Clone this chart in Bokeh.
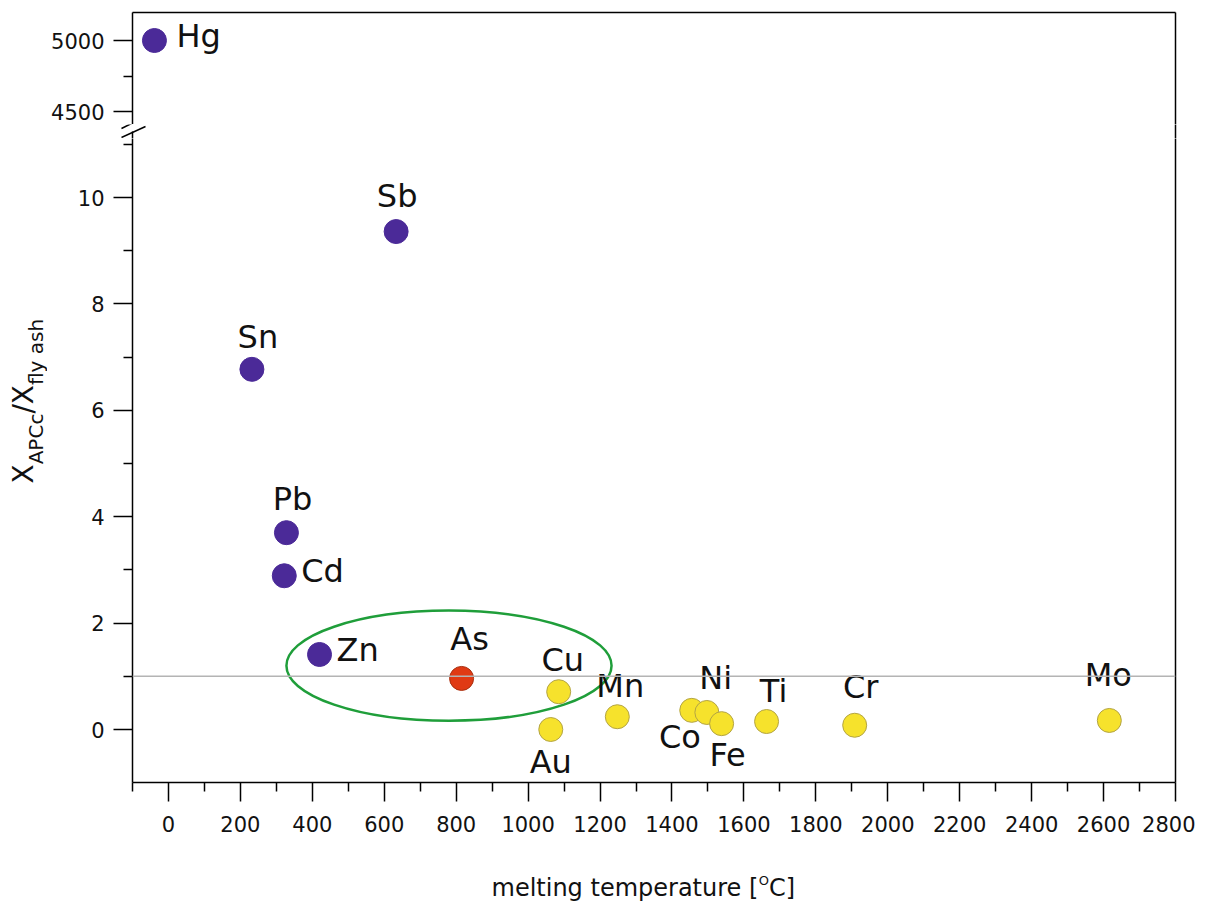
import math
from bokeh.plotting import figure
from bokeh.models import ColumnDataSource, FixedTicker, LinearAxis, Span, Range1d
from bokeh.layouts import column, row
from bokeh.embed import file_html
from bokeh.resources import INLINE
from bokeh.core.properties import value

# ---------------- data ----------------
elements = ["Hg", "Sn", "Pb", "Cd", "Zn", "Sb", "As", "Cu", "Au", "Mn",
            "Ni", "Co", "Fe", "Ti", "Cr", "Mo"]
melting_temp = [-39, 232, 328, 322, 420, 633, 815, 1085, 1063, 1248,
                1455, 1497, 1538, 1663, 1908, 2616]
ratio = [5000, 6.77, 3.70, 2.89, 1.41, 9.36, 0.96, 0.71, 0.00, 0.24,
         0.36, 0.32, 0.11, 0.15, 0.08, 0.17]
group = ["volatile", "volatile", "volatile", "volatile", "volatile", "volatile",
         "semi", "non", "non", "non", "non", "non", "non", "non", "non", "non"]

x_ticks = list(range(0, 2801, 200))
x_minor = list(range(-100, 2800, 200))
y_ticks_low = [0, 2, 4, 6, 8, 10]
y_minor_low = [-1, 1, 3, 5, 7, 9, 11]
y_ticks_high = [4500, 5000]
y_minor_high = [4750]
reference_level = 1.0
ellipse_center = (780, 1.2)
ellipse_size = (904, 2.07)

x_label_parts = ["melting temperature [", "O", "C]"]
y_label_parts = ["X", "APCc", "/X", "fly ash"]

# ---------------- style ----------------
FONT = "DejaVu Sans"
TXT = "#111111"
fill_colors = {"volatile": "#4b2a98", "semi": "#e03a14", "non": "#f6e22c"}
line_colors = {"volatile": "#4b2a98", "semi": "#a83010", "non": "#b3a445"}
# label placement: (align, dx, dy) -> offsets of the text centre in px (down positive)
label_pos = {
    "Hg": ("left", 22, -5), "Sn": ("center", 6, -32), "Pb": ("center", 6, -34),
    "Cd": ("left", 17, -5), "Zn": ("left", 17, -4), "Sb": ("center", 1, -36),
    "As": ("center", 8, -39), "Cu": ("center", 4, -32), "Au": ("center", 0, 32),
    "Mn": ("center", 3, -31), "Ni": ("center", 24, -32), "Co": ("center", -27, 25),
    "Fe": ("center", 6, 31), "Ti": ("center", 7, -31), "Cr": ("center", 6, -38),
    "Mo": ("center", -1, -45),
}
LABEL_SIZE = 32
TICK_SIZE = "21px"
MID = 0.346          # em-box centre above baseline

# page-pixel layout
YLAB_W = 47
PAGE_LEFT, PAGE_RIGHT = 132, 1175
FRAME_W = PAGE_RIGHT - PAGE_LEFT
LEFT = PAGE_LEFT - YLAB_W
RIGHT = 20
FIG_W = LEFT + FRAME_W + RIGHT
TOP_Y0, TOP_Y1 = 12, 124
LOW_Y0, LOW_Y1 = 138, 782
LOW_BOTTOM = 850
TOTAL_H = 904
MID_X0, MID_X1 = 112, 1180

# axis calibration (pixel rows of two known values)
HIGH_CAL = ((5000, 40), (4500, 111))
LOW_CAL = ((10, 197), (0, 729))


def cal_range(cal, y0, y1):
    (v_a, p_a), (v_b, p_b) = cal
    k = (p_b - p_a) / (v_a - v_b)
    return Range1d(v_b - (y1 - p_b) / k, v_a + (p_a - y0) / k)


def make_source(sel):
    idx = [i for i in range(len(elements)) if sel(ratio[i])]
    return ColumnDataSource(dict(
        x=[melting_temp[i] for i in idx],
        y=[ratio[i] for i in idx],
        name=[elements[i] for i in idx],
        fill=[fill_colors[group[i]] for i in idx],
        line=[line_colors[group[i]] for i in idx],
        align=[label_pos[elements[i]][0] for i in idx],
        dx=[label_pos[elements[i]][1] for i in idx],
        dy=[label_pos[elements[i]][2] for i in idx],
    ))


def style_axis(ax, ticks, minor, standoff):
    ax.ticker = FixedTicker(ticks=ticks, minor_ticks=minor)
    ax.axis_line_color = "black"
    ax.axis_line_width = 1.5
    ax.major_tick_in = 0
    ax.major_tick_out = 19
    ax.minor_tick_in = 0
    ax.minor_tick_out = 9
    ax.major_tick_line_width = 1.5
    ax.minor_tick_line_width = 1.5
    ax.major_tick_line_color = "black"
    ax.minor_tick_line_color = "black"
    ax.major_label_text_font = FONT
    ax.major_label_text_font_size = TICK_SIZE
    ax.major_label_text_color = TXT
    ax.major_label_standoff = standoff


def border_axis():
    return LinearAxis(ticker=FixedTicker(ticks=[]), axis_line_color="black",
                      axis_line_width=1.5, major_tick_out=0, major_tick_in=0,
                      minor_tick_out=0, minor_tick_in=0, major_label_standoff=0,
                      major_tick_line_color=None, minor_tick_line_color=None,
                      major_label_text_font_size="0px")


def bare(fig):
    fig.grid.visible = False
    fig.outline_line_color = None
    fig.background_fill_color = "white"
    fig.border_fill_color = "white"


def draw_points(fig, src):
    fig.scatter("x", "y", source=src, size=24, fill_color="fill", line_color="line",
                line_width=1)
    fig.text("x", "y", text="name", source=src, x_offset="dx", y_offset="dy",
             text_align="align", text_baseline="middle",
             text_font=value(FONT), text_font_size=f"{LABEL_SIZE}px",
             text_color=TXT)


def pixel_fig(w, h, x0, y0, left=0):
    f = figure(frame_width=w, frame_height=h,
               x_range=Range1d(x0, x0 + w), y_range=Range1d(y0 + h, y0),
               x_axis_location=None, y_axis_location=None,
               output_backend="svg", toolbar_location=None,
               min_border_left=left, min_border_right=0, min_border_top=0,
               min_border_bottom=0, frame_align=False)
    bare(f)
    return f


x_range = Range1d(-100, 2800)

# ---------------- y-label strip ----------------
ylab = pixel_fig(YLAB_W, TOTAL_H, 0, 0)
MAIN, SUB = 28, 20
adv = [0.685 * MAIN, 2.535 * SUB, 1.022 * MAIN, 3.308 * SUB]
sizes = [MAIN, SUB, MAIN, SUB]
base = [33, 42, 33, 42]
ys, start = [], 483
for a in adv:
    ys.append(start)
    start -= a
for txt, fs, bx, yy in zip(y_label_parts, sizes, base, ys):
    ylab.text(x=[bx - MID * fs], y=[yy], text=[txt], angle=math.pi / 2,
              text_align="left", text_baseline="middle", text_font=value(FONT),
              text_font_size=f"{fs}px", text_color=TXT)

# ---------------- upper panel ----------------
top = figure(frame_width=FRAME_W, frame_height=TOP_Y1 - TOP_Y0, x_range=x_range,
             y_range=cal_range(HIGH_CAL, TOP_Y0, TOP_Y1), x_axis_location=None,
             output_backend="svg", toolbar_location=None,
             min_border_left=LEFT, min_border_right=RIGHT,
             min_border_top=TOP_Y0, min_border_bottom=0)
bare(top)
style_axis(top.yaxis[0], y_ticks_high, y_minor_high, 9)
top.add_layout(border_axis(), "above")
top.add_layout(border_axis(), "right")
draw_points(top, make_source(lambda v: v > 100))

# ---------------- break strip (axis break marks, page pixels) ----------------
mid = pixel_fig(MID_X1 - MID_X0, LOW_Y0 - TOP_Y1, MID_X0, TOP_Y1, left=MID_X0 - YLAB_W)
mid.segment(x0=[132, 121, 121, PAGE_RIGHT], y0=[131, 128, 137, TOP_Y1 - 2],
            x1=[132, 145, 145, PAGE_RIGHT], y1=[LOW_Y0 + 2, 116, 126, LOW_Y0 + 2],
            line_color="black", line_width=1.5)

# ---------------- lower panel ----------------
low = figure(frame_width=FRAME_W, frame_height=LOW_Y1 - LOW_Y0, x_range=x_range,
             y_range=cal_range(LOW_CAL, LOW_Y0, LOW_Y1),
             output_backend="svg", toolbar_location=None,
             min_border_left=LEFT, min_border_right=RIGHT,
             min_border_top=0, min_border_bottom=LOW_BOTTOM - LOW_Y1)
bare(low)
style_axis(low.yaxis[0], y_ticks_low, y_minor_low, 9)
style_axis(low.xaxis[0], x_ticks, x_minor, 14)
low.add_layout(border_axis(), "right")
low.ellipse(x=[ellipse_center[0]], y=[ellipse_center[1]],
            width=[ellipse_size[0]], height=[ellipse_size[1]],
            fill_color=None, line_color="#1f9e3a", line_width=2.5)
draw_points(low, make_source(lambda v: v <= 100))
low.add_layout(Span(location=reference_level, dimension="width",
                    line_color="#b4b4b4", line_width=1.5))

# ---------------- x-label strip ----------------
xlab = pixel_fig(FIG_W, TOTAL_H - LOW_BOTTOM, YLAB_W, LOW_BOTTOM)
XL_MAIN, XL_SUP = 24, 13
xl_x = [491, 491 + 11.139 * XL_MAIN, 491 + 11.139 * XL_MAIN + 0.787 * XL_SUP]
xl_base = [896, 884, 896]
xl_size = [XL_MAIN, XL_SUP, XL_MAIN]
for txt, xx, yb, fs in zip(x_label_parts, xl_x, xl_base, xl_size):
    xlab.text(x=[xx], y=[yb - MID * fs], text=[txt], text_align="left",
              text_baseline="middle", text_font=value(FONT),
              text_font_size=f"{fs}px", text_color=TXT)

layout = row(ylab, column(top, mid, low, xlab, spacing=0), spacing=0)
open("out.html", "w").write(file_html(layout, INLINE))
